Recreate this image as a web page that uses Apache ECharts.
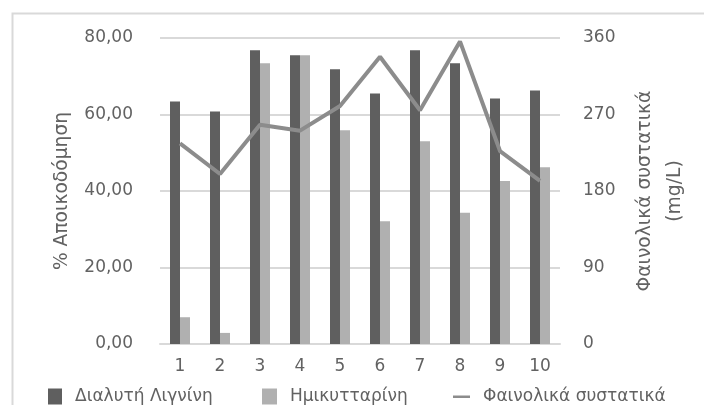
<!DOCTYPE html>
<html>
<head>
<meta charset="utf-8">
<script src="https://cdn.jsdelivr.net/npm/echarts@6/dist/echarts.min.js"></script>
<style>
  html, body { margin: 0; padding: 0; background: #fff; }
  #chart { width: 704px; height: 405px; }
</style>
</head>
<body>
<div id="chart"></div>
<script>
// Samples 1–10
const categories = ['1', '2', '3', '4', '5', '6', '7', '8', '9', '10'];
// % degradation
const lignin = [63.4, 60.8, 76.8, 75.5, 71.8, 65.5, 76.8, 73.4, 64.2, 66.3];
const hemicellulose = [7.0, 2.9, 73.4, 75.5, 55.9, 32.1, 53.0, 34.3, 42.6, 46.2];
// phenolic compounds, mg/L
const phenolics = [236, 200, 258, 251, 280, 338, 275, 356, 227, 192];

const seriesNames = ['Διαλυτή Λιγνίνη', 'Ημικυτταρίνη', 'Φαινολικά συστατικά'];
const leftAxisName = '% Αποικοδόμηση';
const rightAxisName = 'Φαινολικά συστατικά\n(mg/L)';

const textColor = '#626262';
const gridColor = '#d9d9d9';
const font = 'DejaVu Sans, sans-serif';

const chart = echarts.init(document.getElementById('chart'), null, { renderer: 'canvas' });

// one legend block per series so each entry sits at its own x
function legendBlock(name, left, icon, w, h) {
  return {
    left: left,
    top: 388,
    itemWidth: w,
    itemHeight: h,
    padding: 0,
    selectedMode: false,
    textStyle: { fontFamily: font, fontSize: 17, color: textColor, padding: [3, 0, 0, 8] },
    data: [{ name: name, icon: icon }]
  };
}

chart.setOption({
  animation: false,
  backgroundColor: '#ffffff',
  textStyle: { fontFamily: font, color: textColor },
  graphic: [{
    type: 'rect',
    left: 10, top: 11,
    shape: { width: 720, height: 420 },
    style: { fill: 'none', stroke: gridColor, lineWidth: 2 },
    silent: true, z: -10
  }],
  grid: { left: 160, right: 144, top: 38, bottom: 61 },
  legend: [
    legendBlock(seriesNames[0], 48, 'rect', 14, 16),
    legendBlock(seriesNames[1], 262, 'rect', 15, 16),
    legendBlock(seriesNames[2], 453, 'path://M0,0 M0,7 L17,7 L17,9.5 L0,9.5 Z M17,16', 17, 16)
  ],
  xAxis: {
    type: 'category',
    data: categories,
    axisLine: { show: true, lineStyle: { color: gridColor, width: 2 } },
    axisTick: { show: false },
    axisLabel: { color: textColor, fontSize: 17, margin: 14, fontFamily: font }
  },
  yAxis: [{
    type: 'value',
    min: 0, max: 80, interval: 20,
    name: leftAxisName,
    nameLocation: 'middle',
    nameGap: 88,
    nameRotate: 90,
    nameTextStyle: { fontSize: 18.7, color: textColor, fontFamily: font },
    axisLine: { show: false },
    axisTick: { show: false },
    axisLabel: {
      color: textColor, fontSize: 17, margin: 27, fontFamily: font,
      padding: [4, 0, 0, 0],
      formatter: v => v.toFixed(2).replace('.', ',')
    },
    splitLine: { lineStyle: { color: gridColor, width: 2 } }
  }, {
    type: 'value',
    min: 0, max: 360, interval: 90,
    name: rightAxisName,
    nameLocation: 'middle',
    nameGap: 70,
    nameRotate: 90,
    nameTextStyle: { fontSize: 18.7, color: textColor, fontFamily: font, lineHeight: 30 },
    axisLine: { show: false },
    axisTick: { show: false },
    axisLabel: { color: textColor, fontSize: 17, margin: 23, fontFamily: font, padding: [2, 0, 0, 0] },
    splitLine: { show: false }
  }],
  series: [{
    name: seriesNames[0],
    type: 'bar',
    data: lignin,
    barWidth: 10,
    barGap: '0%',
    itemStyle: { color: '#5f5f5f' }
  }, {
    name: seriesNames[1],
    type: 'bar',
    data: hemicellulose,
    barWidth: 10,
    barGap: '0%',
    itemStyle: { color: '#b0b0b0' }
  }, {
    name: seriesNames[2],
    type: 'line',
    yAxisIndex: 1,
    data: phenolics,
    symbol: 'none',
    lineStyle: { color: '#8c8c8c', width: 4 },
    itemStyle: { color: '#8c8c8c' },
    z: 5
  }]
});
</script>
</body>
</html>
